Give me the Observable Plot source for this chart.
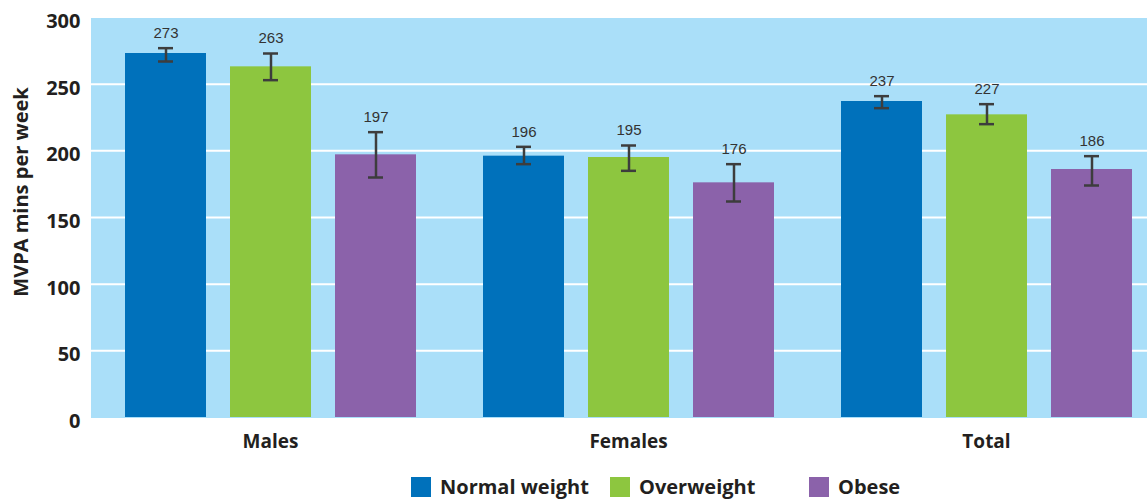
<!DOCTYPE html>
<html>
<head>
<meta charset="utf-8">
<script src="https://cdn.jsdelivr.net/npm/d3@7"></script>
<script src="https://cdn.jsdelivr.net/npm/@observablehq/plot@0.6"></script>
<style>
  html, body { margin: 0; padding: 0; background: #fff; overflow: hidden; }
  #wrap { position: relative; width: 1147px; height: 501px; overflow: hidden; }
  #wrap svg { max-width: none !important; display: block; }
  #ytitle {
    position: absolute; left: 20px; top: 192px;
    transform: translate(-50%, -50%) rotate(-90deg);
    white-space: nowrap; font: bold 20px "Open Sans", sans-serif; color: #231f20;
  }
  #legend {
    position: absolute; left: 411px; top: 477px; display: flex;
    font: bold 20px "Open Sans", sans-serif; color: #231f20; line-height: 20px;
  }
  #legend .item { width: 199px; display: flex; align-items: center; }
  #legend .sw { width: 20px; height: 20px; margin-right: 9px; flex: none; }
</style>
</head>
<body>
<div id="wrap"></div>
<script>
const groups = ["Males", "Females", "Total"];
const series = ["Normal weight", "Overweight", "Obese"];
const colors = ["#0071bb", "#8dc63f", "#8b62aa"];
// values per group, in series order
const males   = [273, 263, 197];
const females = [196, 195, 176];
const total   = [237, 227, 186];
// error bar bounds
const malesLow   = [267, 253, 180];
const malesHigh  = [277, 273, 214];
const femalesLow  = [190, 185, 162];
const femalesHigh = [203, 204, 190];
const totalLow   = [232, 220, 174];
const totalHigh  = [241, 235, 196];
const yTicks = [0, 50, 100, 150, 200, 250, 300];
const gridTicks = [50, 100, 150, 200, 250];
const yTitle = "MVPA mins per week";

const vals = [males, females, total];
const lows = [malesLow, femalesLow, totalLow];
const highs = [malesHigh, femalesHigh, totalHigh];
const data = [];
groups.forEach((g, gi) => series.forEach((s, si) => data.push({
  group: g, series: s, value: vals[gi][si], low: lows[gi][si], high: highs[gi][si]
})));

const chart = Plot.plot({
  width: 1165,
  height: 460,
  marginLeft: 91,
  marginRight: 0,
  marginTop: 17,
  marginBottom: 43,
  style: { maxWidth: "none", background: "white", overflow: "visible" },
  fx: { domain: groups, padding: 0 },
  x: { domain: series, paddingInner: 0.232, paddingOuter: 0.3125, axis: null },
  y: { domain: [0, 300] },
  color: { domain: series, range: colors },
  marks: [
    Plot.frame({ fill: "#aadff9", stroke: "none", insetLeft: -1, insetRight: -1, shapeRendering: "crispEdges" }),
    Plot.gridY(gridTicks, { stroke: "white", strokeOpacity: 1, strokeWidth: 2 }),
    Plot.barY(data, { fx: "group", x: "series", y: "value", fill: "series" }),
    Plot.ruleX(data, { fx: "group", x: "series", y1: "low", y2: "high", stroke: "#3d3d3d", strokeWidth: 2.5 }),
    Plot.tickY(data, { fx: "group", x: "series", y: "low", stroke: "#3d3d3d", strokeWidth: 2.5, insetLeft: 33, insetRight: 33 }),
    Plot.tickY(data, { fx: "group", x: "series", y: "high", stroke: "#3d3d3d", strokeWidth: 2.5, insetLeft: 33, insetRight: 33 }),
    Plot.text(data, { fx: "group", x: "series", y: "high", text: d => String(d.value), dy: -15,
      fontSize: 15, fill: "#333", fontFamily: "Liberation Sans, Arial, sans-serif" }),
    Plot.axisY({ ticks: yTicks, tickSize: 0, tickPadding: 11, dy: 4, label: null,
      fontSize: 20, fontWeight: "bold", fontFamily: "Open Sans, sans-serif", fill: "#231f20" }),
    Plot.axisFx({ anchor: "bottom", tickSize: 0, tickPadding: 17, label: null,
      fontSize: 19, fontWeight: "bold", fontFamily: "Open Sans, sans-serif", fill: "#231f20" })
  ]
});

const wrap = document.getElementById("wrap");
wrap.appendChild(chart);

const t = document.createElement("div");
t.id = "ytitle";
t.textContent = yTitle;
wrap.appendChild(t);

const lg = document.createElement("div");
lg.id = "legend";
const cs = chart.scale("color");
cs.domain.forEach((s, i) => {
  const it = document.createElement("div");
  it.className = "item";
  const sw = document.createElement("span");
  sw.className = "sw";
  sw.style.background = cs.range[i];
  const lab = document.createElement("span");
  lab.textContent = s;
  it.appendChild(sw); it.appendChild(lab);
  lg.appendChild(it);
});
wrap.appendChild(lg);
</script>
</body>
</html>
